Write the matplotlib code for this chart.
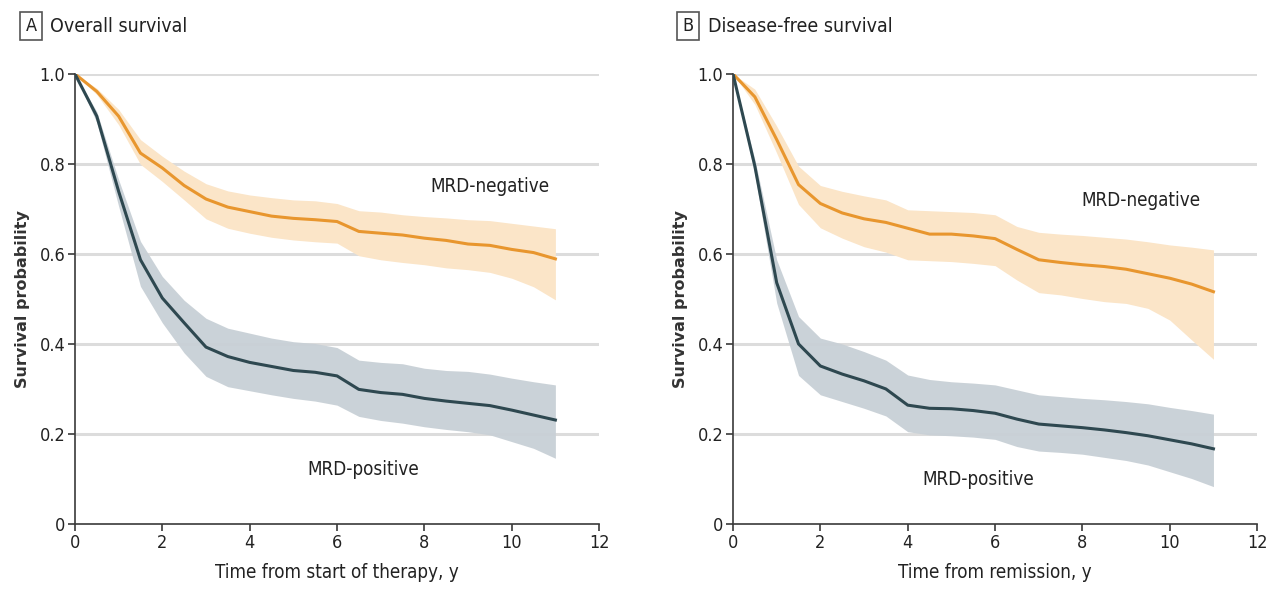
import numpy as np
import matplotlib
matplotlib.use('Agg')
from matplotlib import pyplot as plt

# years (every 0.5 y)
t = [0, 0.5, 1, 1.5, 2, 2.5, 3, 3.5, 4, 4.5, 5, 5.5, 6, 6.5, 7, 7.5, 8, 8.5, 9, 9.5, 10, 10.5, 11]

# Panel A - overall survival
os_neg = [1.0, 0.961, 0.906, 0.824, 0.791, 0.752, 0.722, 0.704, 0.694, 0.684, 0.679, 0.676, 0.672,
          0.650, 0.646, 0.642, 0.635, 0.630, 0.622, 0.619, 0.610, 0.603, 0.589]
os_neg_hi = [1.0, 0.968, 0.921, 0.854, 0.817, 0.784, 0.756, 0.740, 0.731, 0.725, 0.720, 0.718, 0.712,
             0.696, 0.693, 0.687, 0.683, 0.680, 0.676, 0.674, 0.668, 0.662, 0.656]
os_neg_lo = [1.0, 0.954, 0.887, 0.799, 0.761, 0.720, 0.678, 0.657, 0.646, 0.637, 0.631, 0.627, 0.624,
             0.596, 0.587, 0.581, 0.576, 0.569, 0.565, 0.559, 0.546, 0.527, 0.498]
os_pos = [1.0, 0.906, 0.739, 0.587, 0.502, 0.447, 0.393, 0.372, 0.359, 0.350, 0.341, 0.337, 0.329,
          0.299, 0.292, 0.288, 0.279, 0.273, 0.268, 0.263, 0.253, 0.242, 0.231]
os_pos_hi = [1.0, 0.916, 0.765, 0.628, 0.550, 0.497, 0.457, 0.435, 0.424, 0.413, 0.405, 0.401, 0.392,
             0.364, 0.359, 0.356, 0.346, 0.341, 0.339, 0.333, 0.324, 0.316, 0.309]
os_pos_lo = [1.0, 0.892, 0.706, 0.528, 0.447, 0.380, 0.328, 0.305, 0.296, 0.287, 0.279, 0.273, 0.264,
             0.239, 0.230, 0.224, 0.216, 0.210, 0.205, 0.198, 0.183, 0.168, 0.146]

# Panel B - disease-free survival
dfs_neg = [1.0, 0.949, 0.854, 0.754, 0.712, 0.691, 0.678, 0.670, 0.657, 0.644, 0.644, 0.640, 0.634,
           0.610, 0.587, 0.581, 0.576, 0.572, 0.566, 0.556, 0.546, 0.533, 0.516]
dfs_neg_hi = [1.0, 0.966, 0.884, 0.795, 0.752, 0.739, 0.729, 0.720, 0.698, 0.696, 0.694, 0.692, 0.687,
              0.661, 0.648, 0.644, 0.641, 0.637, 0.633, 0.627, 0.620, 0.615, 0.609]
dfs_neg_lo = [1.0, 0.932, 0.824, 0.710, 0.658, 0.635, 0.616, 0.604, 0.587, 0.585, 0.583, 0.579, 0.574,
              0.542, 0.514, 0.509, 0.501, 0.494, 0.490, 0.479, 0.453, 0.409, 0.366]
dfs_pos = [1.0, 0.795, 0.536, 0.400, 0.351, 0.333, 0.318, 0.300, 0.264, 0.257, 0.256, 0.252, 0.246,
           0.233, 0.222, 0.218, 0.214, 0.209, 0.203, 0.196, 0.187, 0.178, 0.167]
dfs_pos_hi = [1.0, 0.810, 0.587, 0.461, 0.413, 0.400, 0.383, 0.364, 0.331, 0.321, 0.316, 0.313, 0.309,
              0.298, 0.287, 0.283, 0.279, 0.276, 0.272, 0.267, 0.259, 0.252, 0.244]
dfs_pos_lo = [1.0, 0.776, 0.491, 0.330, 0.287, 0.272, 0.257, 0.240, 0.205, 0.198, 0.196, 0.193, 0.188,
              0.172, 0.162, 0.159, 0.155, 0.148, 0.141, 0.131, 0.116, 0.101, 0.083]

ORANGE = '#E8962E'
ORANGE_BAND = '#FBE5C8'
SLATE = '#2E4850'
SLATE_BAND = '#C8D0D6'
AXIS = '#3a3a3a'

plt.rcParams['font.family'] = ['DejaVu Sans']
plt.rcParams['font.stretch'] = 'condensed'


def draw_panel(ax, neg, neg_lo, neg_hi, pos, pos_lo, pos_hi, xlabel, neg_xy, pos_xy):
    for y in [0.2, 0.4, 0.6, 0.8, 1.0]:
        ax.axhline(y, color='#dcdcdc', lw=2.2, zorder=0)
    ax.fill_between(t, neg_lo, neg_hi, color=ORANGE_BAND, lw=0, zorder=1)
    ax.fill_between(t, pos_lo, pos_hi, color=SLATE_BAND, lw=0, zorder=1, alpha=0.95)
    ax.plot(t, neg, color=ORANGE, lw=2.2, zorder=3)
    ax.plot(t, pos, color=SLATE, lw=2.2, zorder=3)
    ax.set_xlim(0, 12)
    ax.set_ylim(0, 1.0)
    ax.set_xticks(range(0, 13, 2))
    ax.set_yticks([0, 0.2, 0.4, 0.6, 0.8, 1.0])
    ax.set_yticklabels(['0', '0.2', '0.4', '0.6', '0.8', '1.0'])
    for s in ['top', 'right']:
        ax.spines[s].set_visible(False)
    for s in ['left', 'bottom']:
        ax.spines[s].set_color(AXIS)
        ax.spines[s].set_linewidth(1.2)
    ax.tick_params(colors=AXIS, labelsize=13, length=5, width=1.2, labelcolor='#222222', pad=2)
    ax.set_xlabel(xlabel, fontsize=13.5, color='#222222', labelpad=8)
    ax.set_ylabel('Survival probability', fontsize=11.5, family='DejaVu Sans', stretch='normal',
                  fontweight='bold', color='#333333')
    ax.yaxis.set_label_coords(-45 / 524, 0.5)
    ax.text(neg_xy[0], neg_xy[1], 'MRD-negative', fontsize=13.5, ha='center', va='center', color='#222222')
    ax.text(pos_xy[0], pos_xy[1], 'MRD-positive', fontsize=13.5, ha='center', va='center', color='#222222')


fig = plt.figure(figsize=(12.66, 5.93), dpi=100)
axA = fig.add_axes([0.0592, 0.1164, 0.414, 0.759])
axB = fig.add_axes([0.579, 0.1164, 0.414, 0.759])
for ax in (axA, axB):
    for sp in ax.spines.values():
        sp.set_clip_on(False)

draw_panel(axA, os_neg, os_neg_lo, os_neg_hi, os_pos, os_pos_lo, os_pos_hi,
           'Time from start of therapy, y', (9.5, 0.749), (6.6, 0.12))
draw_panel(axB, dfs_neg, dfs_neg_lo, dfs_neg_hi, dfs_pos, dfs_pos_lo, dfs_pos_hi,
           'Time from remission, y', (9.33, 0.718), (5.62, 0.098))

box = dict(boxstyle='square,pad=0.3', fc='white', ec='#555555', lw=1.2)
fig.text(31 / 1266, 1 - 26 / 593, 'A', fontsize=13, ha='center', va='center', bbox=box, color='#222222')
fig.text(50 / 1266, 1 - 26 / 593, 'Overall survival', fontsize=14, ha='left', va='center', color='#222222')
fig.text(688 / 1266, 1 - 26 / 593, 'B', fontsize=13, ha='center', va='center', bbox=box, color='#222222')
fig.text(708 / 1266, 1 - 26 / 593, 'Disease-free survival', fontsize=14, ha='left', va='center', color='#222222')

plt.savefig('out.png', dpi=100)
